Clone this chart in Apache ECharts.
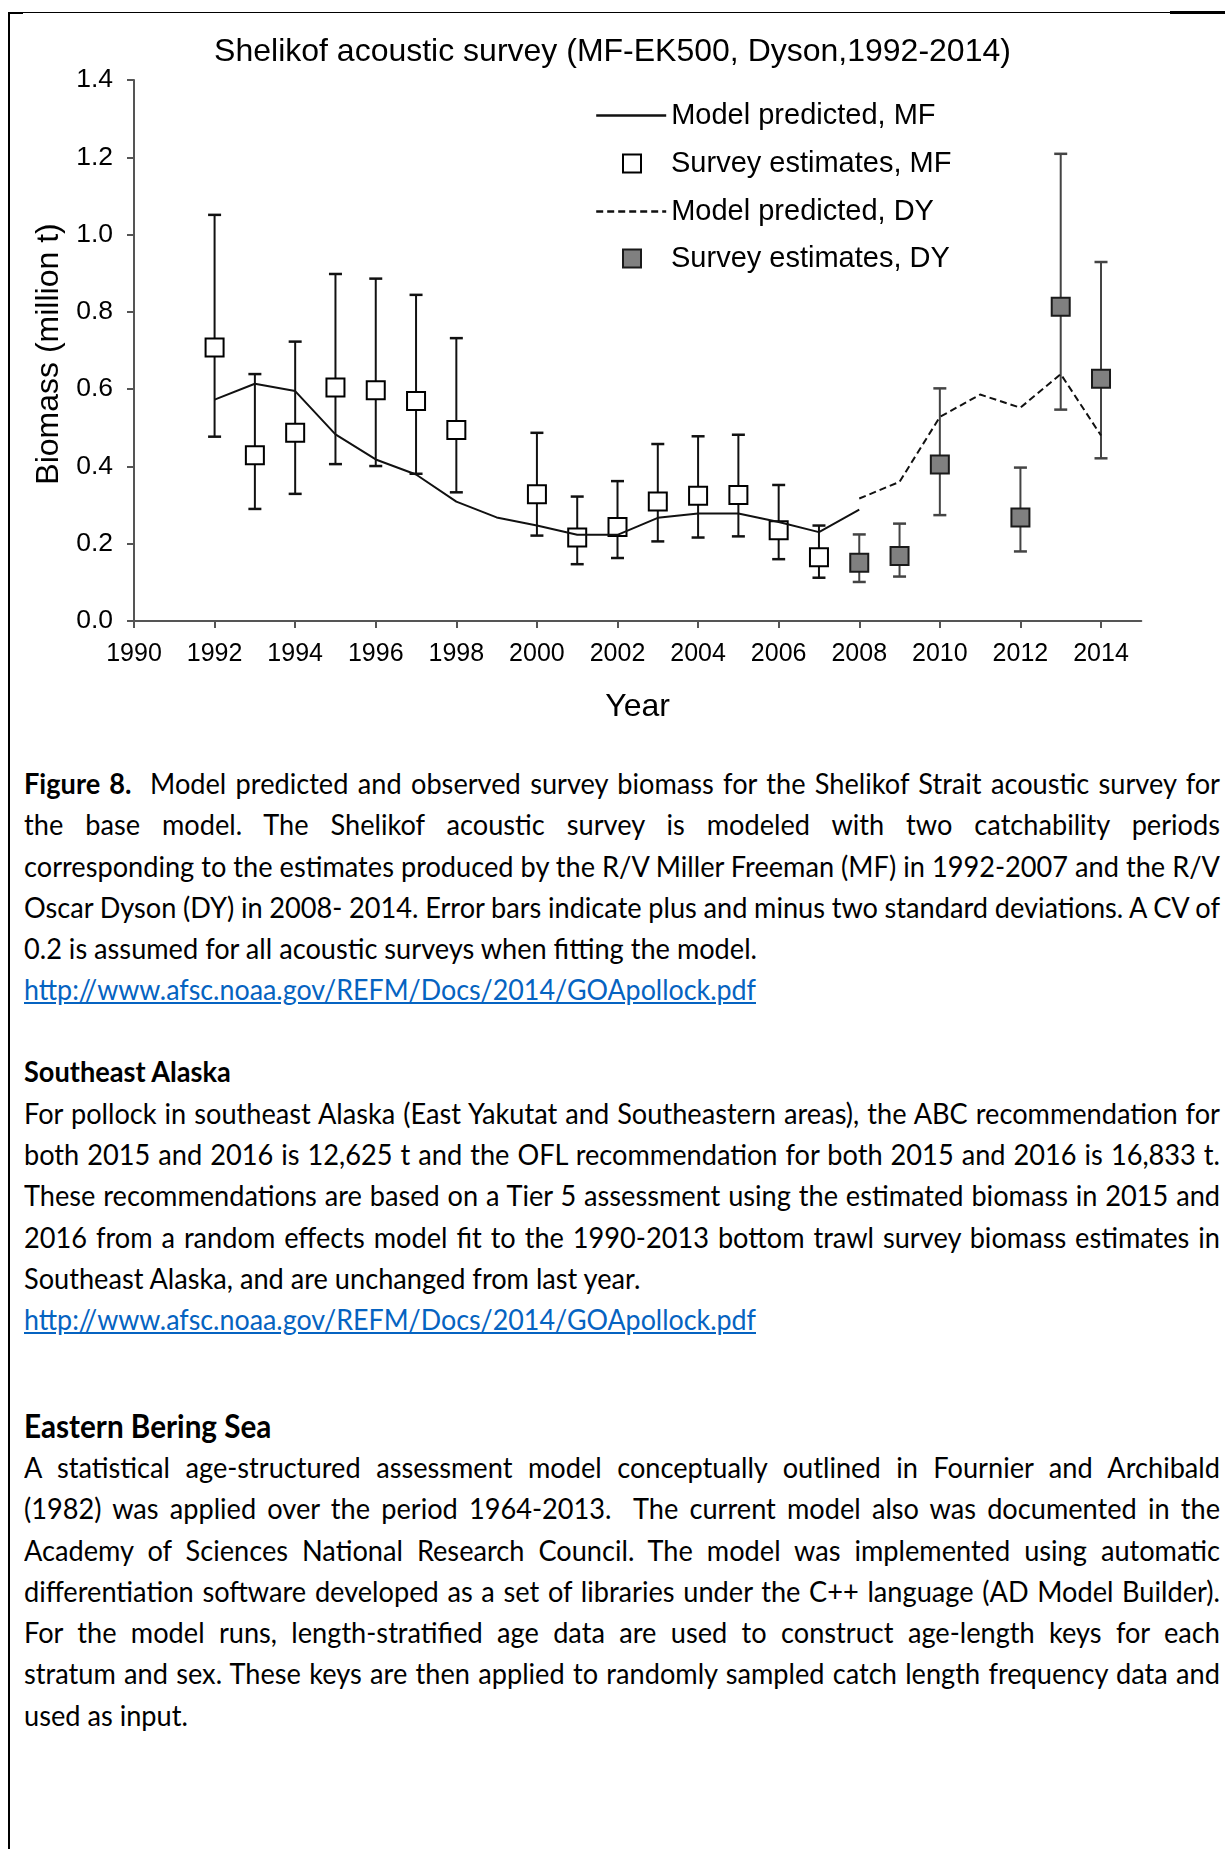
<!DOCTYPE html>
<html>
<head>
<meta charset="utf-8">
<script src="https://cdn.jsdelivr.net/npm/echarts@6/dist/echarts.min.js"></script>
<style>
html,body{margin:0;padding:0;background:#fff;}
body{width:1225px;height:1849px;position:relative;overflow:hidden;}
#chart{position:absolute;left:0;top:0;width:1225px;height:760px;}
.bd{position:absolute;background:#000;}
.ln{position:absolute;left:23.6px;white-space:nowrap;font-family:Lato,"Noto Sans",sans-serif;line-height:41.3px;height:41.3px;color:#000;transform-origin:0 50%;}
.lnk{color:#0563C1;text-decoration:underline;}
</style>
</head>
<body>
<div id="chart"></div>
<div class="bd" style="left:7.5px;top:11.5px;width:2.5px;height:1838px;"></div>
<div class="bd" style="left:9px;top:12px;width:1161px;height:1.2px;"></div>
<div class="bd" style="left:9px;top:11.5px;width:14px;height:2.8px;"></div>
<div class="bd" style="left:1170px;top:11px;width:55px;height:3px;"></div>
<div id="text"></div>
<script>
// ---------------- chart data ----------------
const TITLE = 'Shelikof acoustic survey (MF-EK500, Dyson,1992-2014)';
const xTicks = [1990, 1992, 1994, 1996, 1998, 2000, 2002, 2004, 2006, 2008, 2010, 2012, 2014];

const mfModelYears = [1992, 1993, 1994, 1995, 1996, 1997, 1998, 1999, 2000, 2001, 2002, 2003, 2004, 2005, 2006, 2007, 2008];
const mfModel      = [0.573, 0.614, 0.595, 0.483, 0.418, 0.379, 0.309, 0.268, 0.247, 0.223, 0.223, 0.267, 0.278, 0.278, 0.256, 0.230, 0.288];

const dyModelYears = [2008, 2009, 2010, 2011, 2012, 2013, 2014];
const dyModel      = [0.317, 0.360, 0.528, 0.586, 0.552, 0.639, 0.480];

const mfYears  = [1992, 1993, 1994, 1995, 1996, 1997, 1998, 2000, 2001, 2002, 2003, 2004, 2005, 2006, 2007];
const mfSurvey = [0.708, 0.429, 0.487, 0.604, 0.597, 0.569, 0.494, 0.328, 0.216, 0.243, 0.309, 0.324, 0.326, 0.235, 0.165];
const mfLow    = [0.477, 0.290, 0.329, 0.406, 0.401, 0.381, 0.333, 0.221, 0.147, 0.163, 0.206, 0.216, 0.219, 0.160, 0.112];
const mfHigh   = [1.051, 0.639, 0.723, 0.898, 0.886, 0.844, 0.732, 0.487, 0.322, 0.362, 0.458, 0.478, 0.482, 0.352, 0.247];

const dyYears  = [2008, 2009, 2010, 2012, 2013, 2014];
const dySurvey = [0.151, 0.168, 0.405, 0.268, 0.813, 0.627];
const dyLow    = [0.101, 0.115, 0.274, 0.180, 0.547, 0.421];
const dyHigh   = [0.224, 0.252, 0.602, 0.397, 1.209, 0.929];

const NAMES = ['Model predicted, MF', 'Survey estimates, MF', 'Model predicted, DY', 'Survey estimates, DY'];

// ---------------- chart ----------------
const FONT = '"Liberation Sans", Arial, sans-serif';
const TXT = '#000';
const AX = '#555';

function errRender(color) {
  return function (params, api) {
    const x = api.value(0);
    const lo = api.coord([x, api.value(1)]);
    const hi = api.coord([x, api.value(2)]);
    const hw = 6.5;
    return {
      type: 'group',
      children: [
        {type: 'line', shape: {x1: lo[0], y1: lo[1], x2: hi[0], y2: hi[1]}, style: {stroke: color, lineWidth: 2}},
        {type: 'line', shape: {x1: lo[0] - hw, y1: lo[1], x2: lo[0] + hw, y2: lo[1]}, style: {stroke: color, lineWidth: 2.5}},
        {type: 'line', shape: {x1: hi[0] - hw, y1: hi[1], x2: hi[0] + hw, y2: hi[1]}, style: {stroke: color, lineWidth: 2.5}}
      ]
    };
  };
}

const legendRows = [115.5, 163.5, 211.5, 258.5];
const HIDE = {color: 'rgba(0,0,0,0)', borderColor: 'rgba(0,0,0,0)', borderWidth: 0};
function lineLegend(i, name) {
  return {
    show: true, orient: 'vertical', padding: 0, left: 595, top: legendRows[i] - 15,
    itemWidth: 70, itemHeight: 18, selectedMode: false,
    lineStyle: {width: 2.4},
    textStyle: {fontFamily: FONT, fontSize: 29, color: TXT, lineHeight: 30},
    data: [{name: name, itemStyle: HIDE}]
  };
}
function boxLegend(i, name, fill, border) {
  return {
    show: true, orient: 'vertical', padding: 0, left: 622, top: legendRows[i] - 15,
    itemWidth: 18, itemHeight: 18, selectedMode: false,
    textStyle: {fontFamily: FONT, fontSize: 29, color: TXT, lineHeight: 30, padding: [0, 0, 0, 25]},
    data: [{name: name, icon: 'rect', itemStyle: {color: fill, borderColor: border, borderWidth: 2}}]
  };
}

const chart = echarts.init(document.getElementById('chart'), null, {renderer: 'canvas'});
chart.setOption({
  animation: false,
  backgroundColor: 'transparent',
  title: {
    text: TITLE, left: 'center', top: 35, padding: 0,
    textStyle: {fontFamily: FONT, fontSize: 32, fontWeight: 'normal', color: TXT, lineHeight: 34}
  },
  legend: [
    lineLegend(0, NAMES[0]),
    boxLegend(1, NAMES[1], '#fff', '#000'),
    lineLegend(2, NAMES[2]),
    boxLegend(3, NAMES[3], '#808080', '#1a1a1a')
  ],
  grid: {left: 134, top: 80, width: 1007.3, height: 541, containLabel: false, outerBoundsMode: 'none'},
  xAxis: {
    type: 'value', min: 1990, max: 2015, interval: 2,
    axisLine: {show: true, onZero: false, lineStyle: {color: AX, width: 2}},
    axisTick: {show: true, customValues: xTicks, length: 7, inside: false, lineStyle: {color: AX, width: 2}},
    axisLabel: {customValues: xTicks, fontFamily: FONT, fontSize: 25, color: TXT, margin: 21, formatter: v => String(v)},
    splitLine: {show: false},
    name: 'Year', nameLocation: 'middle', nameGap: 70,
    nameTextStyle: {fontFamily: FONT, fontSize: 32, color: TXT}
  },
  yAxis: {
    type: 'value', min: 0, max: 1.4, interval: 0.2,
    axisLine: {show: true, lineStyle: {color: AX, width: 2}},
    axisTick: {show: true, length: 7, inside: false, lineStyle: {color: AX, width: 2}},
    axisLabel: {fontFamily: FONT, fontSize: 26.5, color: TXT, margin: 21, formatter: v => v.toFixed(1)},
    splitLine: {show: false},
    name: 'Biomass (million t)', nameLocation: 'middle', nameGap: 68, nameRotate: 90,
    nameTextStyle: {fontFamily: FONT, fontSize: 32, color: TXT, padding: [0, 7, 0, 0]}
  },
  series: [
    {
      type: 'custom', name: 'errMF', silent: true, z: 2,
      renderItem: errRender('#111'),
      encode: {x: 0, y: [1, 2]},
      data: mfYears.map((y, i) => [y, mfLow[i], mfHigh[i]])
    },
    {
      type: 'custom', name: 'errDY', silent: true, z: 2,
      renderItem: errRender('#444'),
      encode: {x: 0, y: [1, 2]},
      data: dyYears.map((y, i) => [y, dyLow[i], dyHigh[i]])
    },
    {
      type: 'scatter', name: NAMES[1], z: 3, symbol: 'rect', symbolSize: 18,
      itemStyle: {color: '#fff', borderColor: '#000', borderWidth: 2, opacity: 1},
      data: mfYears.map((y, i) => [y, mfSurvey[i]])
    },
    {
      type: 'scatter', name: NAMES[3], z: 3, symbol: 'rect', symbolSize: 18,
      itemStyle: {color: '#808080', borderColor: '#1a1a1a', borderWidth: 2, opacity: 1},
      data: dyYears.map((y, i) => [y, dySurvey[i]])
    },
    {
      type: 'line', name: NAMES[0], z: 4, symbol: 'none', showSymbol: false,
      itemStyle: {color: '#111'},
      lineStyle: {color: '#111', width: 2},
      data: mfModelYears.map((y, i) => [y, mfModel[i]])
    },
    {
      type: 'line', name: NAMES[2], z: 4, symbol: 'none', showSymbol: false,
      itemStyle: {color: '#111'},
      lineStyle: {color: '#111', width: 2, type: [7, 4]},
      data: dyModelYears.map((y, i) => [y, dyModel[i]])
    }
  ]
});

// ---------------- document text ----------------
const LINK = 'http://www.afsc.noaa.gov/REFM/Docs/2014/GOApollock.pdf';
const PARA_LINES = [
  {y: 783, j: 1, h: '<b>Figure 8.</b>&nbsp; Model predicted and observed survey biomass for the Shelikof Strait acoustic survey for'},
  {y: 824, j: 1, h: 'the base model. The Shelikof acoustic survey is modeled with two catchability periods'},
  {y: 865.5, j: 1, h: 'corresponding to the estimates produced by the R/V Miller Freeman (MF) in 1992-2007 and the R/V'},
  {y: 907, j: 1, h: 'Oscar Dyson (DY) in 2008- 2014. Error bars indicate plus and minus two standard deviations. A CV of'},
  {y: 948, ref: 733, h: '0.2 is assumed for all acoustic surveys when fitting the model.'},
  {y: 989, a: 1, tw: 732, h: LINK},
  {y: 1071, b: 1, h: 'Southeast Alaska'},
  {y: 1112.5, j: 1, h: 'For pollock in southeast Alaska (East Yakutat and Southeastern areas), the ABC recommendation for'},
  {y: 1154, j: 1, h: 'both 2015 and 2016 is 12,625 t and the OFL recommendation for both 2015 and 2016 is 16,833 t.'},
  {y: 1195, j: 1, h: 'These recommendations are based on a Tier 5 assessment using the estimated biomass in 2015 and'},
  {y: 1236.5, j: 1, h: '2016 from a random effects model fit to the 1990-2013 bottom trawl survey biomass estimates in'},
  {y: 1277.5, h: 'Southeast Alaska, and are unchanged from last year.'},
  {y: 1319, a: 1, tw: 732, h: LINK},
  {y: 1425.5, b: 1, fs: 32, h: 'Eastern Bering Sea'},
  {y: 1467, j: 1, h: 'A statistical age-structured assessment model conceptually outlined in Fournier and Archibald'},
  {y: 1508, j: 1, h: '(1982) was applied over the period 1964-2013.&nbsp; The current model also was documented in the'},
  {y: 1549.5, j: 1, h: 'Academy of Sciences National Research Council. The model was implemented using automatic'},
  {y: 1591, j: 1, h: 'differentiation software developed as a set of libraries under the C++ language (AD Model Builder).'},
  {y: 1632, j: 1, h: 'For the model runs, length-stratified age data are used to construct age-length keys for each'},
  {y: 1673, j: 1, h: 'stratum and sex. These keys are then applied to randomly sampled catch length frequency data and'},
  {y: 1714.5, h: 'used as input.'}
];

(function layoutText() {
  const host = document.getElementById('text');
  const items = PARA_LINES.map(l => {
    const d = document.createElement('div');
    d.className = 'ln';
    d.style.top = (l.y - 20.65) + 'px';
    d.style.fontSize = (l.fs || 29.3) + 'px';
    if (l.b) d.style.fontWeight = 'bold';
    const s = document.createElement('span');
    if (l.a) s.className = 'lnk';
    s.innerHTML = l.h;
    d.appendChild(s);
    host.appendChild(d);
    return {d, s, l};
  });
  const refItem = items.find(it => it.l.ref);
  const k = refItem.l.ref / refItem.s.getBoundingClientRect().width;
  const FULL = 1196;
  items.forEach(it => {
    let kk = k;
    if (it.l.tw) kk = it.l.tw / it.s.getBoundingClientRect().width;
    if (it.l.j) {
      const w = it.s.getBoundingClientRect().width;
      const n = (it.s.textContent.match(/[ \u00a0]/g) || []).length;
      if (n > 0) it.s.style.wordSpacing = ((FULL / k - w) / n) + 'px';
    }
    it.d.style.transform = 'scaleX(' + kk + ')';
  });
})();
</script>
</body>
</html>
